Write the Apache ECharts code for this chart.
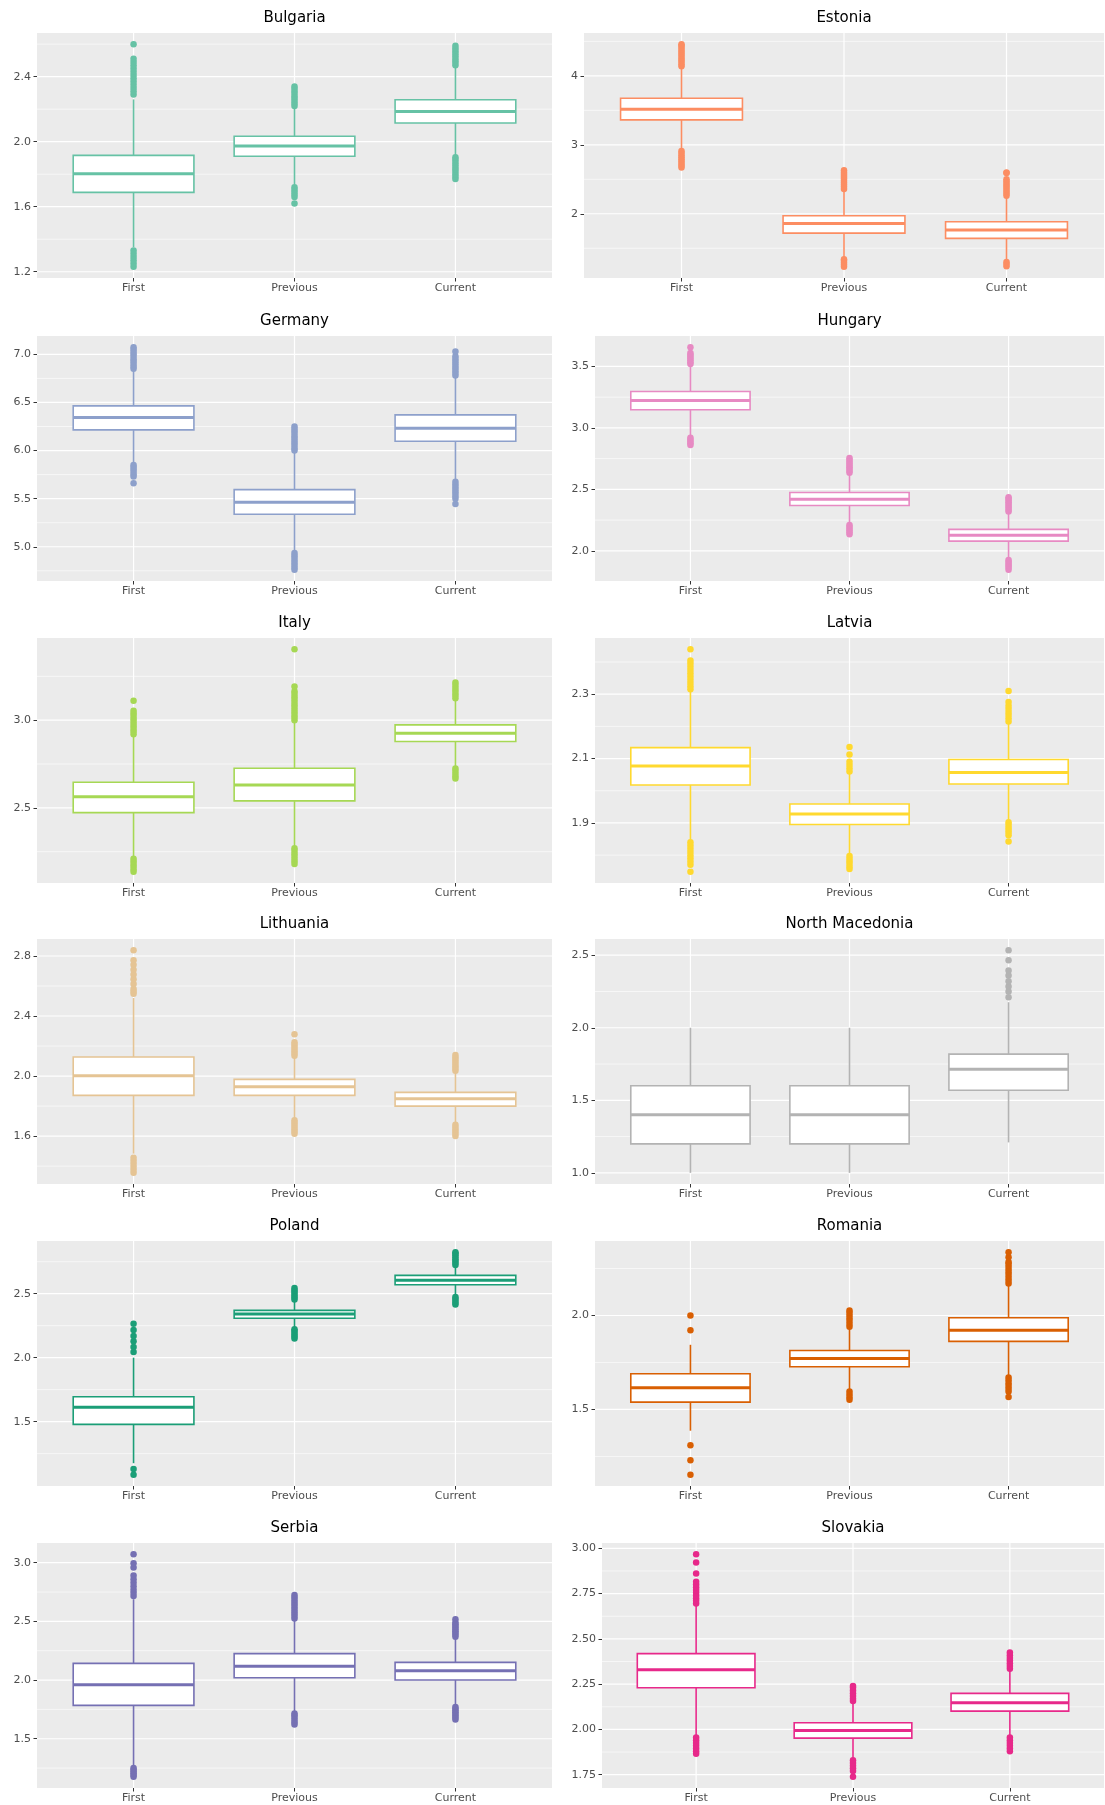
<!DOCTYPE html>
<html>
<head>
<meta charset="utf-8">
<script src="https://cdn.jsdelivr.net/npm/echarts@6/dist/echarts.min.js"></script>
<style>
html,body{margin:0;padding:0;background:#fff;}
#chart{width:1105px;height:1805px;}
</style>
</head>
<body>
<div id="chart"></div>
<script>
// ---------- DATA ----------
const categories = ['First', 'Previous', 'Current'];
const countries = ['Bulgaria','Estonia','Germany','Hungary','Italy','Latvia','Lithuania','North Macedonia','Poland','Romania','Serbia','Slovakia'];
const colors = ['#66C2A5','#FC8D62','#8DA0CB','#E78AC3','#A6D854','#FFD92F','#E5C494','#B3B3B3','#1B9E77','#D95F02','#7570B3','#E7298A'];

// box stats per category: [lower whisker, Q1, median, Q3, upper whisker]
const bulgariaBoxes = [[1.35,1.688,1.803,1.916,2.26],[1.735,1.910,1.973,2.033,2.205],[1.912,2.115,2.185,2.258,2.466]];
const bulgariaOutliers = [
  [2.29,2.31,2.33,2.35,2.37,2.39,2.41,2.43,2.45,2.47,2.49,2.51,2.60,1.23,1.25,1.27,1.29,1.31,1.33],
  [2.22,2.235,2.25,2.265,2.28,2.295,2.31,2.325,2.34,1.66,1.675,1.69,1.705,1.72,1.62],
  [2.47,2.485,2.50,2.515,2.53,2.545,2.56,2.575,2.59,1.77,1.785,1.80,1.815,1.83,1.845,1.86,1.875,1.89,1.905]
];
const bulgariaTicks = ['1.2','1.6','2.0','2.4'];

const estoniaBoxes = [[2.93,3.362,3.517,3.676,4.135],[1.357,1.72,1.86,1.971,2.35],[1.333,1.643,1.763,1.884,2.25]];
const estoniaOutliers = [
  [4.14,4.17,4.20,4.23,4.26,4.29,4.32,4.35,4.38,4.41,4.44,4.46,2.67,2.70,2.73,2.76,2.79,2.82,2.85,2.88,2.91],
  [2.36,2.39,2.42,2.45,2.48,2.51,2.54,2.57,2.60,2.63,1.23,1.26,1.29,1.32,1.34],
  [2.26,2.29,2.32,2.35,2.38,2.41,2.44,2.47,2.50,2.59,2.60,1.24,1.27,1.30]
];
const estoniaTicks = ['2','3','4'];

const germanyBoxes = [[5.851,6.215,6.343,6.464,6.839],[4.95,5.338,5.463,5.594,5.99],[5.695,6.097,6.232,6.371,6.77]];
const germanyOutliers = [
  [6.85,6.875,6.90,6.925,6.95,6.975,7.00,7.025,7.05,7.075,5.73,5.755,5.78,5.805,5.83,5.85,5.66],
  [6.00,6.025,6.05,6.075,6.10,6.125,6.15,6.175,6.20,6.225,6.25,4.76,4.785,4.81,4.835,4.86,4.885,4.91,4.935],
  [6.78,6.805,6.83,6.855,6.88,6.905,6.93,6.955,6.98,7.03,5.445,5.50,5.525,5.55,5.575,5.60,5.625,5.65,5.675]
];
const germanyTicks = ['5.0','5.5','6.0','6.5','7.0'];

const hungaryBoxes = [[2.938,3.147,3.223,3.296,3.508],[2.225,2.369,2.42,2.475,2.627],[1.935,2.079,2.127,2.174,2.315]];
const hungaryOutliers = [
  [3.52,3.535,3.55,3.565,3.58,3.595,3.61,3.657,2.86,2.875,2.89,2.905,2.92],
  [2.635,2.65,2.665,2.68,2.695,2.71,2.725,2.74,2.755,2.135,2.15,2.165,2.18,2.195,2.21],
  [2.32,2.335,2.35,2.365,2.38,2.395,2.41,2.425,2.435,1.845,1.865,1.88,1.895,1.91,1.925]
];
const hungaryTicks = ['2.0','2.5','3.0','3.5'];

const italyBoxes = [[2.217,2.473,2.563,2.646,2.914],[2.274,2.54,2.631,2.726,2.996],[2.736,2.878,2.926,2.973,3.12]];
const italyOutliers = [
  [2.92,2.935,2.95,2.965,2.98,2.995,3.01,3.025,3.04,3.053,3.11,2.135,2.15,2.165,2.18,2.195,2.21],
  [3.00,3.015,3.03,3.045,3.06,3.075,3.09,3.105,3.12,3.135,3.15,3.165,3.192,3.405,2.18,2.195,2.21,2.225,2.24,2.255,2.27],
  [3.125,3.14,3.155,3.17,3.185,3.20,3.215,2.667,2.68,2.695,2.71,2.725]
];
const italyTicks = ['2.5','3.0'];

const latviaBoxes = [[1.842,2.018,2.077,2.134,2.31],[1.80,1.895,1.928,1.959,2.055],[1.909,2.021,2.057,2.097,2.211]];
const latviaOutliers = [
  [2.315,2.325,2.335,2.345,2.355,2.365,2.375,2.385,2.395,2.405,2.44,1.77,1.78,1.79,1.80,1.81,1.82,1.83,1.84,1.748],
  [2.06,2.07,2.08,2.09,2.113,2.136,1.757,1.765,1.773,1.781,1.789,1.797],
  [2.215,2.225,2.235,2.245,2.255,2.264,2.276,2.31,1.862,1.87,1.878,1.886,1.894,1.902,1.842]
];
const latviaTicks = ['1.9','2.1','2.3'];

const lithuaniaBoxes = [[1.483,1.871,2.002,2.127,2.52],[1.717,1.871,1.929,1.978,2.13],[1.679,1.80,1.848,1.891,2.03]];
const lithuaniaOutliers = [
  [2.549,2.564,2.58,2.613,2.645,2.676,2.709,2.741,2.772,2.839,1.355,1.375,1.395,1.415,1.435,1.455],
  [2.135,2.15,2.165,2.18,2.195,2.21,2.225,2.279,1.616,1.63,1.645,1.66,1.675,1.69,1.705],
  [2.035,2.05,2.065,2.08,2.095,2.11,2.125,2.14,1.60,1.615,1.63,1.645,1.66,1.675]
];
const lithuaniaTicks = ['1.6','2.0','2.4','2.8'];

const northMacedoniaBoxes = [[1.0,1.2,1.4,1.6,2.0],[1.0,1.2,1.4,1.6,2.0],[1.21,1.569,1.714,1.818,2.176]];
const northMacedoniaOutliers = [
  [],
  [],
  [2.21,2.25,2.285,2.32,2.36,2.394,2.465,2.535]
];
const northMacedoniaTicks = ['1.0','1.5','2.0','2.5'];

const polandBoxes = [[1.175,1.479,1.612,1.695,2.0],[2.227,2.308,2.342,2.37,2.448],[2.487,2.57,2.606,2.643,2.72]];
const polandOutliers = [
  [2.045,2.084,2.129,2.17,2.217,2.266,1.129,1.084],
  [2.455,2.47,2.485,2.50,2.515,2.53,2.545,2.15,2.165,2.18,2.195,2.21,2.222],
  [2.725,2.74,2.755,2.77,2.785,2.80,2.815,2.825,2.415,2.43,2.445,2.46,2.475]
];
const polandTicks = ['1.5','2.0','2.5'];

const romaniaBoxes = [[1.387,1.539,1.615,1.69,1.844],[1.605,1.727,1.771,1.814,1.933],[1.676,1.862,1.922,1.988,2.168]];
const romaniaOutliers = [
  [1.922,2.0,1.309,1.23,1.152],
  [1.94,1.955,1.97,1.985,2.0,2.015,2.027,1.551,1.565,1.58,1.595],
  [2.17,2.185,2.20,2.215,2.23,2.245,2.26,2.275,2.284,2.31,2.337,1.566,1.596,1.61,1.625,1.64,1.655,1.67]
];
const romaniaTicks = ['1.5','2.0'];

const serbiaBoxes = [[1.271,1.784,1.96,2.142,2.689],[1.721,2.02,2.117,2.225,2.518],[1.778,2.0,2.08,2.151,2.362]];
const serbiaOutliers = [
  [2.717,2.745,2.77,2.80,2.83,2.86,2.89,2.96,2.996,3.073,1.175,1.19,1.205,1.22,1.235,1.251],
  [2.525,2.545,2.565,2.585,2.605,2.625,2.645,2.665,2.685,2.705,2.725,1.621,1.64,1.66,1.68,1.70,1.715],
  [2.37,2.385,2.40,2.415,2.43,2.445,2.46,2.475,2.49,2.518,1.664,1.68,1.695,1.71,1.725,1.74,1.755,1.77]
];
const serbiaTicks = ['1.5','2.0','2.5','3.0'];

const slovakiaBoxes = [[1.963,2.23,2.33,2.4185,2.682],[1.843,1.952,1.994,2.037,2.147],[1.967,2.101,2.147,2.199,2.332]];
const slovakiaOutliers = [
  [2.695,2.71,2.725,2.74,2.755,2.77,2.785,2.80,2.815,2.861,2.922,2.968,1.865,1.88,1.895,1.91,1.925,1.94,1.955],
  [2.157,2.17,2.185,2.20,2.215,2.23,2.24,1.738,1.77,1.785,1.80,1.815,1.83],
  [2.335,2.35,2.365,2.38,2.395,2.41,2.425,1.88,1.895,1.91,1.925,1.94,1.955]
];
const slovakiaTicks = ['1.75','2.00','2.25','2.50','2.75','3.00'];

const boxesList = [bulgariaBoxes,estoniaBoxes,germanyBoxes,hungaryBoxes,italyBoxes,latviaBoxes,lithuaniaBoxes,northMacedoniaBoxes,polandBoxes,romaniaBoxes,serbiaBoxes,slovakiaBoxes];
const outliersList = [bulgariaOutliers,estoniaOutliers,germanyOutliers,hungaryOutliers,italyOutliers,latviaOutliers,lithuaniaOutliers,northMacedoniaOutliers,polandOutliers,romaniaOutliers,serbiaOutliers,slovakiaOutliers];
const ticksList = [bulgariaTicks,estoniaTicks,germanyTicks,hungaryTicks,italyTicks,latviaTicks,lithuaniaTicks,northMacedoniaTicks,polandTicks,romaniaTicks,serbiaTicks,slovakiaTicks];

// ---------- LAYOUT ----------
const FONT = 'DejaVu Sans';
const rowTops = [33, 336, 638, 939, 1241, 1543];
const panelHeight = 245;
const panelLefts = [37, 584, 37, 595, 37, 595, 37, 595, 37, 595, 37, 602];
const colRightEdge = [552, 1104];

const grids = [], xAxes = [], yAxes = [], series = [], graphics = [];

function gridRender(params, api) {
  const cs = params.coordSys;
  const orient = api.value(3);
  const w = api.value(2);
  if (orient === 0) {
    const y = api.coord([2, api.value(1)])[1];
    return {type:'line', shape:{x1:cs.x, y1:y, x2:cs.x+cs.width, y2:y}, style:{stroke:'#FFFFFF', lineWidth:w}, silent:true};
  } else {
    const x = api.coord([api.value(0), 0])[0];
    return {type:'line', shape:{x1:x, y1:cs.y, x2:x, y2:cs.y+cs.height}, style:{stroke:'#FFFFFF', lineWidth:w}, silent:true};
  }
}

countries.forEach((name, i) => {
  const row = Math.floor(i / 2), col = i % 2;
  const color = colors[i];
  const boxes = boxesList[i], outs = outliersList[i], ticks = ticksList[i];
  const top = rowTops[row];
  const left = panelLefts[i];
  const rightEdge = colRightEdge[col];

  grids.push({left: left, top: top, width: rightEdge - left, height: panelHeight,
    show: true, backgroundColor: '#EBEBEB', borderWidth: 0, containLabel: false});

  const all = [];
  boxes.forEach(b => all.push(...b));
  outs.forEach(o => all.push(...o));
  const lo = Math.min(...all), hi = Math.max(...all);
  const pad = (hi - lo) * 0.05;
  const ymin = lo - pad, ymax = hi + pad;

  const majors = ticks.map(Number);
  const step = majors[1] - majors[0];
  const minors = [majors[0] - step / 2, ...majors.map(v => v + step / 2)].filter(v => v > ymin && v < ymax);

  xAxes.push({
    gridIndex: i, type: 'value', min: 0.4, max: 3.6,
    axisLine: {show: false}, splitLine: {show: false},
    axisTick: {show: true, customValues: [1, 2, 3], length: 3.5, lineStyle: {color: '#333333', width: 1}},
    axisLabel: {show: true, customValues: [1, 2, 3], formatter: v => categories[Math.round(v) - 1] || '',
      color: '#4D4D4D', fontSize: 11, fontFamily: FONT, margin: 5}
  });
  yAxes.push({
    gridIndex: i, type: 'value', min: ymin, max: ymax,
    axisLine: {show: false}, splitLine: {show: false},
    axisTick: {show: true, customValues: majors, length: 3.5, lineStyle: {color: '#333333', width: 1}},
    axisLabel: {show: true, customValues: majors,
      formatter: v => { const k = majors.findIndex(m => Math.abs(m - v) < 1e-6); return k >= 0 ? ticks[k] : ''; },
      color: '#4D4D4D', fontSize: 11, fontFamily: FONT, margin: 6}
  });

  const gridData = [];
  minors.forEach(v => gridData.push([2, v, 0.6, 0]));
  majors.forEach(v => gridData.push([2, v, 1.2, 0]));
  [1, 2, 3].forEach(x => gridData.push([x, majors[0], 1.2, 1]));
  series.push({type: 'custom', xAxisIndex: i, yAxisIndex: i, z: 1, silent: true,
    renderItem: gridRender, data: gridData, encode: {x: 0, y: 1}, clip: true});

  series.push({
    type: 'custom', xAxisIndex: i, yAxisIndex: i, z: 2, silent: true,
    data: boxes.map((b, k) => [k + 1, ...b]),
    encode: {x: 0, y: [1, 2, 3, 4, 5]},
    renderItem: function (params, api) {
      const x = api.value(0);
      const pLo = api.coord([x, api.value(1)]);
      const pQ1 = api.coord([x, api.value(2)]);
      const pMd = api.coord([x, api.value(3)]);
      const pQ3 = api.coord([x, api.value(4)]);
      const pHi = api.coord([x, api.value(5)]);
      const w = api.size([0.75, 0])[0];
      return {type: 'group', children: [
        {type: 'line', shape: {x1: pLo[0], y1: pLo[1], x2: pLo[0], y2: pQ1[1]}, style: {stroke: color, lineWidth: 1.6}},
        {type: 'line', shape: {x1: pHi[0], y1: pQ3[1], x2: pHi[0], y2: pHi[1]}, style: {stroke: color, lineWidth: 1.6}},
        {type: 'rect', shape: {x: pMd[0] - w / 2, y: pQ3[1], width: w, height: pQ1[1] - pQ3[1]}, style: {fill: '#FFFFFF', stroke: color, lineWidth: 1.6}},
        {type: 'line', shape: {x1: pMd[0] - w / 2, y1: pMd[1], x2: pMd[0] + w / 2, y2: pMd[1]}, style: {stroke: color, lineWidth: 3}}
      ]};
    }
  });

  const pts = [];
  outs.forEach((arr, k) => arr.forEach(v => pts.push([k + 1, v])));
  series.push({type: 'scatter', xAxisIndex: i, yAxisIndex: i, z: 3, silent: true,
    data: pts, symbol: 'circle', symbolSize: 6.5, itemStyle: {color: color, opacity: 1}});

  graphics.push({type: 'text', x: (left + rightEdge) / 2, y: top - 15, silent: true,
    style: {text: name, align: 'center', verticalAlign: 'middle', fontSize: 15, fontFamily: FONT, fill: '#000000'}});
});

const chart = echarts.init(document.getElementById('chart'), null, {renderer: 'canvas'});
chart.setOption({
  animation: false,
  backgroundColor: '#FFFFFF',
  grid: grids,
  xAxis: xAxes,
  yAxis: yAxes,
  series: series,
  graphic: graphics
});
</script>
</body>
</html>
